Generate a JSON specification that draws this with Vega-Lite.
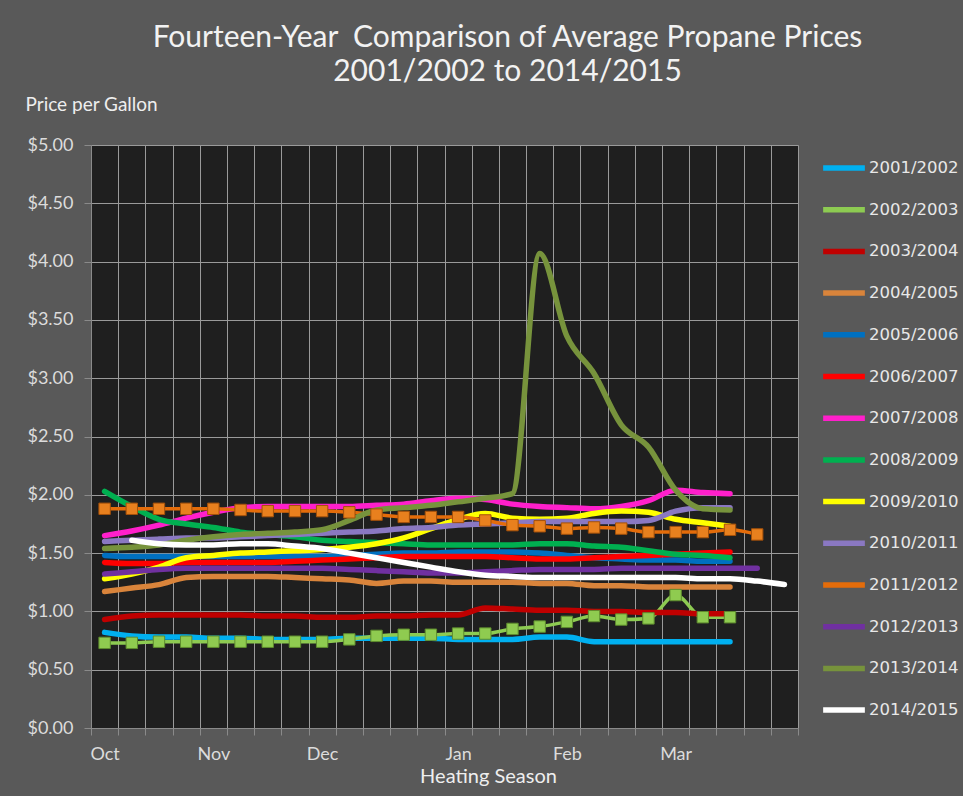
{
  "$schema": "https://vega.github.io/schema/vega-lite/v6.json",
  "autosize": {"type": "none"},
  "padding": {"left": 91, "top": 145, "right": 165, "bottom": 68},
  "width": 707,
  "height": 583,
  "background": "#595959",
  "title": {
    "text": ["Fourteen-Year\u00a0\u00a0Comparison of Average Propane Prices", "2001/2002 to 2014/2015"],
    "anchor": "middle",
    "frame": "group",
    "dx": 63,
    "font": "Lato",
    "fontSize": 30,
    "fontWeight": "normal",
    "lineHeight": 34,
    "color": "#f2f2f2",
    "offset": 8
  },
  "config": {
    "view": {"fill": "#1f1f1f", "stroke": null},
    "axis": {"gridColor": "#9a9a9a", "gridWidth": 1, "domainColor": "#8a8a8a", "tickColor": "#8a8a8a", "labelColor": "#dcdcdc", "titleColor": "#eeeeee", "labelFont": "Lato", "labelFontSize": 18, "titleFont": "Lato", "titleFontWeight": "normal"}
  },
  "data": {"name": "prices"},
  "datasets": {
    "prices": [
      {"season":"2001/2002","week":0,"price":0.82},{"season":"2001/2002","week":1,"price":0.79},{"season":"2001/2002","week":2,"price":0.78},{"season":"2001/2002","week":3,"price":0.78},{"season":"2001/2002","week":4,"price":0.77},{"season":"2001/2002","week":5,"price":0.77},{"season":"2001/2002","week":6,"price":0.76},{"season":"2001/2002","week":7,"price":0.76},{"season":"2001/2002","week":8,"price":0.76},{"season":"2001/2002","week":9,"price":0.77},{"season":"2001/2002","week":10,"price":0.77},{"season":"2001/2002","week":11,"price":0.77},{"season":"2001/2002","week":12,"price":0.77},{"season":"2001/2002","week":13,"price":0.76},{"season":"2001/2002","week":14,"price":0.76},{"season":"2001/2002","week":15,"price":0.76},{"season":"2001/2002","week":16,"price":0.78},{"season":"2001/2002","week":17,"price":0.78},{"season":"2001/2002","week":18,"price":0.74},{"season":"2001/2002","week":19,"price":0.74},{"season":"2001/2002","week":20,"price":0.74},{"season":"2001/2002","week":21,"price":0.74},{"season":"2001/2002","week":22,"price":0.74},{"season":"2001/2002","week":23,"price":0.74},
      {"season":"2002/2003","week":0,"price":0.73},{"season":"2002/2003","week":1,"price":0.73},{"season":"2002/2003","week":2,"price":0.74},{"season":"2002/2003","week":3,"price":0.74},{"season":"2002/2003","week":4,"price":0.74},{"season":"2002/2003","week":5,"price":0.74},{"season":"2002/2003","week":6,"price":0.74},{"season":"2002/2003","week":7,"price":0.74},{"season":"2002/2003","week":8,"price":0.74},{"season":"2002/2003","week":9,"price":0.76},{"season":"2002/2003","week":10,"price":0.79},{"season":"2002/2003","week":11,"price":0.80},{"season":"2002/2003","week":12,"price":0.80},{"season":"2002/2003","week":13,"price":0.81},{"season":"2002/2003","week":14,"price":0.81},{"season":"2002/2003","week":15,"price":0.85},{"season":"2002/2003","week":16,"price":0.87},{"season":"2002/2003","week":17,"price":0.91},{"season":"2002/2003","week":18,"price":0.96},{"season":"2002/2003","week":19,"price":0.93},{"season":"2002/2003","week":20,"price":0.94},{"season":"2002/2003","week":21,"price":1.14},{"season":"2002/2003","week":22,"price":0.95},{"season":"2002/2003","week":23,"price":0.95},
      {"season":"2003/2004","week":0,"price":0.93},{"season":"2003/2004","week":1,"price":0.96},{"season":"2003/2004","week":2,"price":0.97},{"season":"2003/2004","week":3,"price":0.97},{"season":"2003/2004","week":4,"price":0.97},{"season":"2003/2004","week":5,"price":0.97},{"season":"2003/2004","week":6,"price":0.96},{"season":"2003/2004","week":7,"price":0.96},{"season":"2003/2004","week":8,"price":0.95},{"season":"2003/2004","week":9,"price":0.95},{"season":"2003/2004","week":10,"price":0.96},{"season":"2003/2004","week":11,"price":0.96},{"season":"2003/2004","week":12,"price":0.97},{"season":"2003/2004","week":13,"price":0.97},{"season":"2003/2004","week":14,"price":1.03},{"season":"2003/2004","week":15,"price":1.02},{"season":"2003/2004","week":16,"price":1.01},{"season":"2003/2004","week":17,"price":1.01},{"season":"2003/2004","week":18,"price":1.00},{"season":"2003/2004","week":19,"price":1.00},{"season":"2003/2004","week":20,"price":0.99},{"season":"2003/2004","week":21,"price":0.99},{"season":"2003/2004","week":22,"price":0.98},{"season":"2003/2004","week":23,"price":0.98},
      {"season":"2004/2005","week":0,"price":1.17},{"season":"2004/2005","week":1,"price":1.20},{"season":"2004/2005","week":2,"price":1.23},{"season":"2004/2005","week":3,"price":1.29},{"season":"2004/2005","week":4,"price":1.30},{"season":"2004/2005","week":5,"price":1.30},{"season":"2004/2005","week":6,"price":1.30},{"season":"2004/2005","week":7,"price":1.29},{"season":"2004/2005","week":8,"price":1.28},{"season":"2004/2005","week":9,"price":1.27},{"season":"2004/2005","week":10,"price":1.24},{"season":"2004/2005","week":11,"price":1.26},{"season":"2004/2005","week":12,"price":1.26},{"season":"2004/2005","week":13,"price":1.25},{"season":"2004/2005","week":14,"price":1.25},{"season":"2004/2005","week":15,"price":1.25},{"season":"2004/2005","week":16,"price":1.24},{"season":"2004/2005","week":17,"price":1.24},{"season":"2004/2005","week":18,"price":1.22},{"season":"2004/2005","week":19,"price":1.22},{"season":"2004/2005","week":20,"price":1.21},{"season":"2004/2005","week":21,"price":1.21},{"season":"2004/2005","week":22,"price":1.21},{"season":"2004/2005","week":23,"price":1.21},
      {"season":"2005/2006","week":0,"price":1.48},{"season":"2005/2006","week":1,"price":1.47},{"season":"2005/2006","week":2,"price":1.47},{"season":"2005/2006","week":3,"price":1.47},{"season":"2005/2006","week":4,"price":1.47},{"season":"2005/2006","week":5,"price":1.47},{"season":"2005/2006","week":6,"price":1.47},{"season":"2005/2006","week":7,"price":1.47},{"season":"2005/2006","week":8,"price":1.47},{"season":"2005/2006","week":9,"price":1.48},{"season":"2005/2006","week":10,"price":1.49},{"season":"2005/2006","week":11,"price":1.50},{"season":"2005/2006","week":12,"price":1.50},{"season":"2005/2006","week":13,"price":1.51},{"season":"2005/2006","week":14,"price":1.51},{"season":"2005/2006","week":15,"price":1.51},{"season":"2005/2006","week":16,"price":1.50},{"season":"2005/2006","week":17,"price":1.48},{"season":"2005/2006","week":18,"price":1.46},{"season":"2005/2006","week":19,"price":1.45},{"season":"2005/2006","week":20,"price":1.44},{"season":"2005/2006","week":21,"price":1.44},{"season":"2005/2006","week":22,"price":1.43},{"season":"2005/2006","week":23,"price":1.43},
      {"season":"2006/2007","week":0,"price":1.42},{"season":"2006/2007","week":1,"price":1.41},{"season":"2006/2007","week":2,"price":1.41},{"season":"2006/2007","week":3,"price":1.42},{"season":"2006/2007","week":4,"price":1.42},{"season":"2006/2007","week":5,"price":1.42},{"season":"2006/2007","week":6,"price":1.42},{"season":"2006/2007","week":7,"price":1.43},{"season":"2006/2007","week":8,"price":1.44},{"season":"2006/2007","week":9,"price":1.45},{"season":"2006/2007","week":10,"price":1.46},{"season":"2006/2007","week":11,"price":1.47},{"season":"2006/2007","week":12,"price":1.47},{"season":"2006/2007","week":13,"price":1.47},{"season":"2006/2007","week":14,"price":1.47},{"season":"2006/2007","week":15,"price":1.46},{"season":"2006/2007","week":16,"price":1.45},{"season":"2006/2007","week":17,"price":1.45},{"season":"2006/2007","week":18,"price":1.46},{"season":"2006/2007","week":19,"price":1.47},{"season":"2006/2007","week":20,"price":1.48},{"season":"2006/2007","week":21,"price":1.49},{"season":"2006/2007","week":22,"price":1.50},{"season":"2006/2007","week":23,"price":1.51},
      {"season":"2007/2008","week":0,"price":1.65},{"season":"2007/2008","week":1,"price":1.69},{"season":"2007/2008","week":2,"price":1.74},{"season":"2007/2008","week":3,"price":1.80},{"season":"2007/2008","week":4,"price":1.85},{"season":"2007/2008","week":5,"price":1.89},{"season":"2007/2008","week":6,"price":1.90},{"season":"2007/2008","week":7,"price":1.90},{"season":"2007/2008","week":8,"price":1.90},{"season":"2007/2008","week":9,"price":1.90},{"season":"2007/2008","week":10,"price":1.91},{"season":"2007/2008","week":11,"price":1.92},{"season":"2007/2008","week":12,"price":1.95},{"season":"2007/2008","week":13,"price":1.97},{"season":"2007/2008","week":14,"price":1.96},{"season":"2007/2008","week":15,"price":1.92},{"season":"2007/2008","week":16,"price":1.90},{"season":"2007/2008","week":17,"price":1.89},{"season":"2007/2008","week":18,"price":1.88},{"season":"2007/2008","week":19,"price":1.90},{"season":"2007/2008","week":20,"price":1.95},{"season":"2007/2008","week":21,"price":2.04},{"season":"2007/2008","week":22,"price":2.02},{"season":"2007/2008","week":23,"price":2.01},
      {"season":"2008/2009","week":0,"price":2.03},{"season":"2008/2009","week":1,"price":1.90},{"season":"2008/2009","week":2,"price":1.79},{"season":"2008/2009","week":3,"price":1.75},{"season":"2008/2009","week":4,"price":1.72},{"season":"2008/2009","week":5,"price":1.68},{"season":"2008/2009","week":6,"price":1.66},{"season":"2008/2009","week":7,"price":1.64},{"season":"2008/2009","week":8,"price":1.61},{"season":"2008/2009","week":9,"price":1.60},{"season":"2008/2009","week":10,"price":1.59},{"season":"2008/2009","week":11,"price":1.58},{"season":"2008/2009","week":12,"price":1.57},{"season":"2008/2009","week":13,"price":1.57},{"season":"2008/2009","week":14,"price":1.57},{"season":"2008/2009","week":15,"price":1.57},{"season":"2008/2009","week":16,"price":1.58},{"season":"2008/2009","week":17,"price":1.58},{"season":"2008/2009","week":18,"price":1.56},{"season":"2008/2009","week":19,"price":1.55},{"season":"2008/2009","week":20,"price":1.52},{"season":"2008/2009","week":21,"price":1.49},{"season":"2008/2009","week":22,"price":1.48},{"season":"2008/2009","week":23,"price":1.46},
      {"season":"2009/2010","week":0,"price":1.28},{"season":"2009/2010","week":1,"price":1.32},{"season":"2009/2010","week":2,"price":1.38},{"season":"2009/2010","week":3,"price":1.46},{"season":"2009/2010","week":4,"price":1.48},{"season":"2009/2010","week":5,"price":1.50},{"season":"2009/2010","week":6,"price":1.51},{"season":"2009/2010","week":7,"price":1.52},{"season":"2009/2010","week":8,"price":1.53},{"season":"2009/2010","week":9,"price":1.55},{"season":"2009/2010","week":10,"price":1.58},{"season":"2009/2010","week":11,"price":1.63},{"season":"2009/2010","week":12,"price":1.71},{"season":"2009/2010","week":13,"price":1.79},{"season":"2009/2010","week":14,"price":1.84},{"season":"2009/2010","week":15,"price":1.80},{"season":"2009/2010","week":16,"price":1.79},{"season":"2009/2010","week":17,"price":1.80},{"season":"2009/2010","week":18,"price":1.84},{"season":"2009/2010","week":19,"price":1.86},{"season":"2009/2010","week":20,"price":1.85},{"season":"2009/2010","week":21,"price":1.79},{"season":"2009/2010","week":22,"price":1.76},{"season":"2009/2010","week":23,"price":1.73},
      {"season":"2010/2011","week":0,"price":1.60},{"season":"2010/2011","week":1,"price":1.61},{"season":"2010/2011","week":2,"price":1.62},{"season":"2010/2011","week":3,"price":1.63},{"season":"2010/2011","week":4,"price":1.63},{"season":"2010/2011","week":5,"price":1.64},{"season":"2010/2011","week":6,"price":1.65},{"season":"2010/2011","week":7,"price":1.66},{"season":"2010/2011","week":8,"price":1.67},{"season":"2010/2011","week":9,"price":1.68},{"season":"2010/2011","week":10,"price":1.69},{"season":"2010/2011","week":11,"price":1.71},{"season":"2010/2011","week":12,"price":1.72},{"season":"2010/2011","week":13,"price":1.74},{"season":"2010/2011","week":14,"price":1.75},{"season":"2010/2011","week":15,"price":1.76},{"season":"2010/2011","week":16,"price":1.77},{"season":"2010/2011","week":17,"price":1.77},{"season":"2010/2011","week":18,"price":1.77},{"season":"2010/2011","week":19,"price":1.77},{"season":"2010/2011","week":20,"price":1.78},{"season":"2010/2011","week":21,"price":1.86},{"season":"2010/2011","week":22,"price":1.89},{"season":"2010/2011","week":23,"price":1.89},
      {"season":"2011/2012","week":0,"price":1.88},{"season":"2011/2012","week":1,"price":1.88},{"season":"2011/2012","week":2,"price":1.88},{"season":"2011/2012","week":3,"price":1.88},{"season":"2011/2012","week":4,"price":1.88},{"season":"2011/2012","week":5,"price":1.87},{"season":"2011/2012","week":6,"price":1.86},{"season":"2011/2012","week":7,"price":1.86},{"season":"2011/2012","week":8,"price":1.86},{"season":"2011/2012","week":9,"price":1.85},{"season":"2011/2012","week":10,"price":1.83},{"season":"2011/2012","week":11,"price":1.81},{"season":"2011/2012","week":12,"price":1.81},{"season":"2011/2012","week":13,"price":1.81},{"season":"2011/2012","week":14,"price":1.78},{"season":"2011/2012","week":15,"price":1.74},{"season":"2011/2012","week":16,"price":1.73},{"season":"2011/2012","week":17,"price":1.71},{"season":"2011/2012","week":18,"price":1.72},{"season":"2011/2012","week":19,"price":1.71},{"season":"2011/2012","week":20,"price":1.68},{"season":"2011/2012","week":21,"price":1.68},{"season":"2011/2012","week":22,"price":1.68},{"season":"2011/2012","week":23,"price":1.70},{"season":"2011/2012","week":24,"price":1.66},
      {"season":"2012/2013","week":0,"price":1.32},{"season":"2012/2013","week":1,"price":1.34},{"season":"2012/2013","week":2,"price":1.36},{"season":"2012/2013","week":3,"price":1.37},{"season":"2012/2013","week":4,"price":1.37},{"season":"2012/2013","week":5,"price":1.37},{"season":"2012/2013","week":6,"price":1.37},{"season":"2012/2013","week":7,"price":1.37},{"season":"2012/2013","week":8,"price":1.37},{"season":"2012/2013","week":9,"price":1.36},{"season":"2012/2013","week":10,"price":1.35},{"season":"2012/2013","week":11,"price":1.34},{"season":"2012/2013","week":12,"price":1.33},{"season":"2012/2013","week":13,"price":1.33},{"season":"2012/2013","week":14,"price":1.34},{"season":"2012/2013","week":15,"price":1.35},{"season":"2012/2013","week":16,"price":1.36},{"season":"2012/2013","week":17,"price":1.36},{"season":"2012/2013","week":18,"price":1.36},{"season":"2012/2013","week":19,"price":1.37},{"season":"2012/2013","week":20,"price":1.37},{"season":"2012/2013","week":21,"price":1.37},{"season":"2012/2013","week":22,"price":1.37},{"season":"2012/2013","week":23,"price":1.37},{"season":"2012/2013","week":24,"price":1.37},
      {"season":"2013/2014","week":0,"price":1.54},{"season":"2013/2014","week":1,"price":1.55},{"season":"2013/2014","week":2,"price":1.57},{"season":"2013/2014","week":3,"price":1.61},{"season":"2013/2014","week":4,"price":1.64},{"season":"2013/2014","week":5,"price":1.66},{"season":"2013/2014","week":6,"price":1.67},{"season":"2013/2014","week":7,"price":1.68},{"season":"2013/2014","week":8,"price":1.70},{"season":"2013/2014","week":9,"price":1.78},{"season":"2013/2014","week":10,"price":1.87},{"season":"2013/2014","week":11,"price":1.89},{"season":"2013/2014","week":12,"price":1.91},{"season":"2013/2014","week":13,"price":1.94},{"season":"2013/2014","week":14,"price":1.97},{"season":"2013/2014","week":15,"price":2.01},{"season":"2013/2014","week":16,"price":4.07},{"season":"2013/2014","week":17,"price":3.36},{"season":"2013/2014","week":18,"price":3.04},{"season":"2013/2014","week":19,"price":2.60},{"season":"2013/2014","week":20,"price":2.41},{"season":"2013/2014","week":21,"price":2.04},{"season":"2013/2014","week":22,"price":1.88},{"season":"2013/2014","week":23,"price":1.87},
      {"season":"2014/2015","week":1,"price":1.61},{"season":"2014/2015","week":2,"price":1.58},{"season":"2014/2015","week":3,"price":1.57},{"season":"2014/2015","week":4,"price":1.57},{"season":"2014/2015","week":5,"price":1.58},{"season":"2014/2015","week":6,"price":1.58},{"season":"2014/2015","week":7,"price":1.56},{"season":"2014/2015","week":8,"price":1.54},{"season":"2014/2015","week":9,"price":1.50},{"season":"2014/2015","week":10,"price":1.46},{"season":"2014/2015","week":11,"price":1.42},{"season":"2014/2015","week":12,"price":1.38},{"season":"2014/2015","week":13,"price":1.34},{"season":"2014/2015","week":14,"price":1.31},{"season":"2014/2015","week":15,"price":1.30},{"season":"2014/2015","week":16,"price":1.29},{"season":"2014/2015","week":17,"price":1.29},{"season":"2014/2015","week":18,"price":1.29},{"season":"2014/2015","week":19,"price":1.29},{"season":"2014/2015","week":20,"price":1.29},{"season":"2014/2015","week":21,"price":1.29},{"season":"2014/2015","week":22,"price":1.28},{"season":"2014/2015","week":23,"price":1.28},{"season":"2014/2015","week":24,"price":1.26},{"season":"2014/2015","week":25,"price":1.23}
    ]
  },
  "layer": [
    {
      "mark": {"type": "line", "interpolate": "monotone", "strokeCap": "round", "strokeJoin": "round"},
      "encoding": {
        "x": {
          "field": "week", "type": "quantitative",
          "scale": {"domain": [-0.5, 25.5], "nice": false, "zero": false},
          "axis": {
            "values": [-0.5,0,0.5,1.5,2.5,3.5,4,4.5,5.5,6.5,7.5,8,8.5,9.5,10.5,11.5,12.5,13,13.5,14.5,15.5,16.5,17,17.5,18.5,19.5,20.5,21,21.5,22.5,23.5,24.5,25.5],
            "tickCount": 200,
            "labelExpr": "datum.value === 0 ? 'Oct' : datum.value === 4 ? 'Nov' : datum.value === 8 ? 'Dec' : datum.value === 13 ? 'Jan' : datum.value === 17 ? 'Feb' : datum.value === 21 ? 'Mar' : ''",
            "labelOverlap": false,
            "labelFlush": false,
            "labelPadding": 10,
            "tickSize": 7,
            "tickOpacity": {"condition": {"test": "datum.value % 1 === 0", "value": 0}, "value": 1},
            "gridOpacity": {"condition": {"test": "datum.value % 1 === 0", "value": 0}, "value": 1},
            "title": "Heating Season",
            "titleFontSize": 20,
            "titleX": 397,
            "titleY": 48,
            "titleAlign": "center",
            "titleBaseline": "middle"
          }
        },
        "y": {
          "field": "price", "type": "quantitative",
          "scale": {"domain": [0, 5], "nice": false},
          "axis": {
            "values": [0,0.5,1,1.5,2,2.5,3,3.5,4,4.5,5],
            "tickCount": 200,
            "format": "$.2f",
            "tickSize": 7,
            "labelPadding": 11,
            "title": "Price per Gallon",
            "titleAngle": 0,
            "titleAlign": "left",
            "titleBaseline": "middle",
            "titleFontSize": 19,
            "titleX": -66,
            "titleY": -41
          }
        },
        "color": {
          "field": "season", "type": "nominal",
          "scale": {
            "domain": ["2001/2002","2002/2003","2003/2004","2004/2005","2005/2006","2006/2007","2007/2008","2008/2009","2009/2010","2010/2011","2011/2012","2012/2013","2013/2014","2014/2015"],
            "range": ["#00B0F0","#8DCB52","#C00000","#D9843B","#0070C0","#FF0000","#FF1FCB","#00B050","#FFFF00","#8A78C2","#E46C0A","#7030A0","#77933C","#FFFFFF"]
          },
          "legend": {
            "title": null,
            "orient": "none",
            "legendX": 729,
            "legendY": -1,
            "symbolType": "stroke",
            "symbolSize": 1740,
            "symbolStrokeWidth": 5.5,
            "rowPadding": 6.7,
            "labelOffset": 1,
            "labelFont": "DejaVu Sans",
            "labelFontSize": 16.5,
            "labelColor": "#e8e8e8"
          }
        },
        "strokeWidth": {"condition": {"test": "datum.season === '2002/2003' || datum.season === '2011/2012'", "value": 3.5}, "value": 5.5}
      }
    },
    {
      "transform": [{"filter": "datum.season === '2002/2003' || datum.season === '2011/2012'"}],
      "mark": {"type": "point", "shape": "square", "filled": true, "size": 130, "opacity": 1, "strokeWidth": 1},
      "encoding": {
        "x": {"field": "week", "type": "quantitative"},
        "y": {"field": "price", "type": "quantitative"},
        "fill": {"condition": {"test": "datum.season === '2002/2003'", "value": "#8FCB50"}, "value": "#E8801E"},
        "stroke": {"condition": {"test": "datum.season === '2002/2003'", "value": "#5E8C2E"}, "value": "#A4500A"}
      }
    }
  ]
}
